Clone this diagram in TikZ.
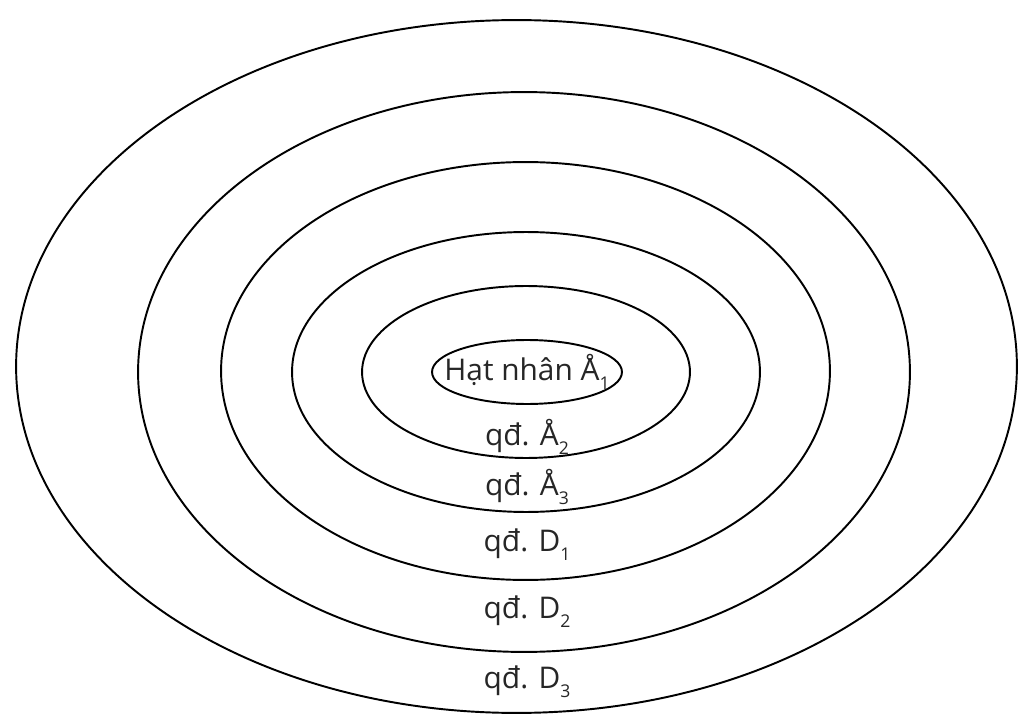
\documentclass[tikz,border=0pt]{standalone}
\usepackage{fontspec}
\setmainfont{Open Sans}
\usepackage{tikz}
\usetikzlibrary{shapes.geometric}

\newcommand{\zsub}[1]{\raisebox{-0.55ex}{\fontsize{10}{12}\selectfont #1}}

\tikzset{
  zone/.style={draw=black, line width=1.1pt, ellipse, inner sep=0pt},
  zonelabel/.style={font=\fontsize{17}{20}\selectfont, text=black!85, inner sep=1pt}
}

\begin{document}
\begin{tikzpicture}[x=0.02cm, y=-0.02cm]
\useasboundingbox (0,0) rectangle (1021,716);
% concentric zones, outermost first
\node[zone, minimum width=20.02cm, minimum height=13.86cm] (zD3) at (516.5,366.5) {};
\node[zone, minimum width=15.44cm, minimum height=11.20cm] (zD2) at (524,372) {};
\node[zone, minimum width=12.18cm, minimum height=8.36cm] (zD1) at (525.5,371) {};
\node[zone, minimum width=9.36cm, minimum height=5.60cm] (zA3) at (526,372) {};
\node[zone, minimum width=6.56cm, minimum height=3.44cm] (zA2) at (526,372) {};
% nucleus
\node[zone, minimum width=3.8cm, minimum height=1.28cm] (core) at (527,372) {};
\node[zonelabel] (lA1) at (core) {Hạt nhân Å\zsub{1}};
% ring labels
\node[zonelabel] (lA2) at (527,437) {qđ. Å\zsub{2}};
\node[zonelabel] (lA3) at (527,487) {qđ. Å\zsub{3}};
\node[zonelabel] (lD1) at (527,545) {qđ. D\zsub{1}};
\node[zonelabel] (lD2) at (527,612) {qđ. D\zsub{2}};
\node[zonelabel] (lD3) at (527,682) {qđ. D\zsub{3}};
\end{tikzpicture}
\end{document}
